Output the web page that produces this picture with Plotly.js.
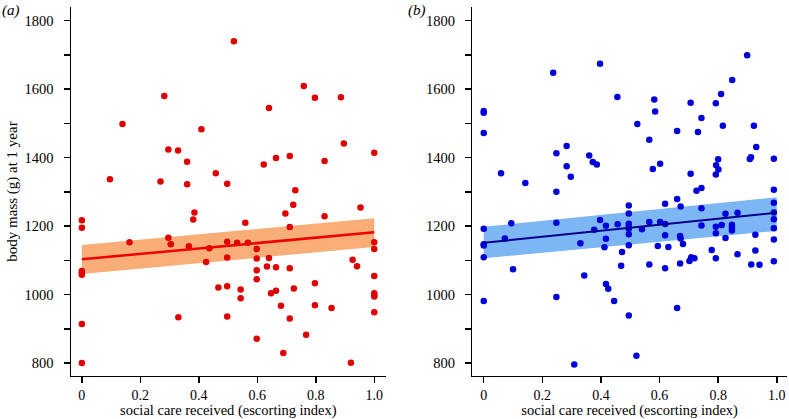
<!DOCTYPE html>
<html><head><meta charset="utf-8">
<script src="https://cdn.plot.ly/plotly-3.0.1.min.js"></script>
<style>html,body{margin:0;padding:0;background:#fff}#chart{width:789px;height:419px}</style>
</head><body><div id="chart"></div>
<script>
// Panel (a) data
const aX = [0.52,0.282,0.139,0.409,0.296,0.329,0.36,0.458,0.096,0.269,0.36,0.497,0.759,0.797,0.886,0.640,0.896,1.0,0.711,0.664,0.622,0.830,0.730,0,0,0.163,0.296,0.304,0.366,0.385,0.381,0.436,0.425,0.497,0.497,0.467,0.497,0.330,0.497,0,0,0,0,0,0.723,0.696,0.559,0.830,0.953,0.711,0.531,0.568,0.598,0.598,0.598,0.598,0.640,0.633,0.664,0.711,1.0,1.0,0.926,0.941,1.0,1.0,1.0,1.0,1.0,0.543,0.543,0.647,0.664,0.725,0.681,0.797,0.797,0.854,0.711,0.767,0.598,0.689,0.920];
const aY = [1740,1580,1498,1483,1424,1421,1388,1354,1337,1330,1322,1324,1609,1575,1576,1545,1441,1414,1405,1399,1380,1390,1305,1217,1195,1153,1166,1147,1141,1240,1219,1135,1095,1154,1108,1021,1024,934,936,1069,1064,1058,914,800,1262,1237,1210,1229,1254,1197,1151,1151,1133,1105,1071,1045,1107,1082,1080,1077,1153,1133,1102,1083,1054,1004,999,994,948,1015,989,1004,1011,1018,967,1033,969,961,930,883,871,829,801];
const aFitX = [0, 1];
const aFitY = [1103, 1182];
const aLow = [1060, 1139];
const aUp = [1145, 1223];

// Panel (b) data
const bX = [0,0,0,0.237,0.397,0.456,0.059,0.142,0.248,0.283,0.283,0.297,0.360,0.372,0.386,0.248,0.899,0.848,0.810,0.582,0.585,0.706,0.792,0.743,0.524,0.816,0.922,0.660,0.731,0.565,0.930,0.800,0.793,0.801,0.792,0.908,0.912,0.99,0.577,0.602,0.706,0.726,0.743,0.99,0.660,0,0,0,0,0,0.072,0.094,0.100,0.248,0.248,0.309,0.330,0.343,0.377,0.397,0.417,0.417,0.412,0.417,0.425,0.445,0.457,0.472,0.469,0.495,0.495,0.495,0.495,0.495,0.495,0.495,0.495,0.521,0.540,0.565,0.565,0.594,0.602,0.619,0.619,0.619,0.619,0.630,0.660,0.672,0.670,0.672,0.680,0.670,0.702,0.708,0.719,0.743,0.743,0.778,0.792,0.792,0.792,0.812,0.825,0.825,0.847,0.847,0.847,0.866,0.866,0.927,0.927,0.913,0.941,0.99,0.99,0.99,0.99,0.99,0.99];
const bY = [1536,1531,1472,1648,1674,1577,1354,1326,1413,1434,1375,1344,1406,1387,1380,1300,1699,1627,1586,1570,1535,1560,1559,1516,1498,1493,1493,1478,1475,1452,1431,1395,1378,1365,1351,1396,1401,1397,1367,1382,1353,1303,1311,1306,1279,1192,1147,1143,1109,981,1164,1208,1074,1210,993,796,1150,1056,1189,1218,1201,1163,1138,1031,1017,981,1205,1124,1084,1260,1237,1207,1198,1192,1176,1144,939,821,1191,1212,1088,1142,1212,1265,1206,1173,1077,1139,961,1257,1171,1164,1148,1091,1098,1109,1106,1252,1202,1130,1198,1179,1106,1203,1236,1165,1204,1196,1187,1239,1118,1175,1129,1088,1087,1268,1240,1220,1194,1161,1097];
const bFitX = [0, 1];
const bFitY = [1151, 1239];
const bLow = [1106, 1186];
const bUp = [1198, 1284];

// Axis ticks
const yTickVals = [800,900,1000,1100,1200,1300,1400,1500,1600,1700,1800];
const yTickText = ['800','','1000','','1200','','1400','','1600','','1800'];
const xTickVals = [0,0.2,0.4,0.6,0.8,1.0];
const xTickText = ['0','0.2','0.4','0.6','0.8','1.0'];

const serif = 'Liberation Serif, Times New Roman, serif';

function band(x, lo, up, xa, ya, color) {
  return [
    {x: x, y: lo, xaxis: xa, yaxis: ya, mode: 'lines', line: {width: 0, color: color}, hoverinfo: 'skip', showlegend: false},
    {x: x, y: up, xaxis: xa, yaxis: ya, mode: 'lines', fill: 'tonexty', fillcolor: color, line: {width: 0, color: color}, hoverinfo: 'skip', showlegend: false}
  ];
}

const traces = [
  ...band(aFitX, aLow, aUp, 'x', 'y', '#F9AE78'),
  {x: aX, y: aY, xaxis: 'x', yaxis: 'y', mode: 'markers', marker: {size: 6.5, color: '#E00000'}, showlegend: false},
  {x: aFitX, y: aFitY, xaxis: 'x', yaxis: 'y', mode: 'lines', line: {width: 2.5, color: '#EE0000'}, showlegend: false},
  ...band(bFitX, bLow, bUp, 'x2', 'y2', '#7DB6F4'),
  {x: bX, y: bY, xaxis: 'x2', yaxis: 'y2', mode: 'markers', marker: {size: 6.5, color: '#0000DD'}, showlegend: false},
  {x: bFitX, y: bFitY, xaxis: 'x2', yaxis: 'y2', mode: 'lines', line: {width: 2, color: '#00008B'}, showlegend: false}
];

function xaxis(domain, range, anchor) {
  return {domain: domain, range: range, anchor: anchor, showline: true, linecolor: '#000', linewidth: 1.5,
    showgrid: false, zeroline: false, ticks: 'outside', ticklen: 6, tickwidth: 1.5, tickcolor: '#000',
    tickvals: xTickVals, ticktext: xTickText, tickfont: {family: serif, size: 14, color: '#000'},
    title: {text: 'social care received (escorting index)', font: {family: serif, size: 14.5, color: '#000'}, standoff: 9}};
}
function yaxis(domain, anchor, title) {
  const ax = {domain: domain, range: [763, 1839], anchor: anchor, showline: true, linecolor: '#000', linewidth: 1.5,
    showgrid: false, zeroline: false, ticks: 'outside', ticklen: 6, tickwidth: 1.5, tickcolor: '#000',
    ticklabelstandoff: 7,
    tickvals: yTickVals, ticktext: yTickText, tickfont: {family: serif, size: 14.5, color: '#000'}};
  if (title) ax.title = {text: title, font: {family: serif, size: 15, color: '#000'}, standoff: 3};
  return ax;
}

const layout = {
  width: 789, height: 419, autosize: false,
  margin: {l: 0, r: 0, t: 0, b: 0},
  paper_bgcolor: '#fff', plot_bgcolor: '#fff',
  xaxis: xaxis([0.09, 0.4888], [-0.037, 1.039], 'y'),
  yaxis: yaxis([0.1033, 0.9826], 'x', 'body mass (g) at 1 year'),
  xaxis2: xaxis([0.5986, 0.9975], [-0.039, 1.035], 'y2'),
  yaxis2: yaxis([0.1033, 0.9826], 'x2', null),
  annotations: [
    {text: '(a)', xref: 'paper', yref: 'paper', x: 0.0, y: 1.0, xanchor: 'left', yanchor: 'top', showarrow: false, font: {family: serif, size: 15, color: '#000'}},
    {text: '(b)', xref: 'paper', yref: 'paper', x: 0.514, y: 1.0, xanchor: 'left', yanchor: 'top', showarrow: false, font: {family: serif, size: 15, color: '#000'}}
  ]
};
layout.annotations.forEach(a => a.text = '<i>' + a.text + '</i>');

Plotly.newPlot('chart', traces, layout, {displayModeBar: false, staticPlot: true});
</script></body></html>
